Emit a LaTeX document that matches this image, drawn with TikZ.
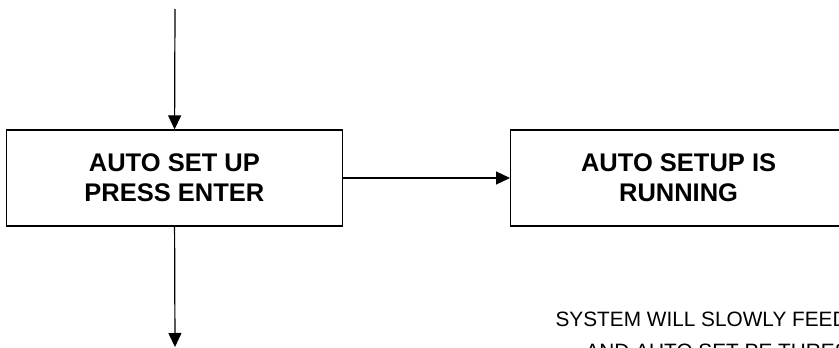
\documentclass[tikz,border=0pt]{standalone}
\usepackage{fontspec}
\setmainfont{Liberation Sans}
\usetikzlibrary{arrows.meta,graphs,positioning}
\tikzset{
    ampersand replacement=\&,
    >={Triangle[length=14pt,width=13pt]},
    stepbox/.style={draw, line width=1.2pt, minimum width=336pt, minimum height=96pt,
        align=center, font=\bfseries\fontsize{25.5}{30}\selectfont},
    note/.style={anchor=base west, inner sep=0pt, font=\fontsize{20.8}{24}\selectfont},
}

\begin{document}
\begin{tikzpicture}[x=1pt,y=-1pt,line width=1.2pt]
            \useasboundingbox (0,0) rectangle (839,348);
            \clip (0,0) rectangle (839,348);

            \matrix[column sep=167pt, inner sep=0pt] at (426.5,178) {
                \node[stepbox] (S) {AUTO SET UP\\PRESS ENTER} ; \&
                \node[stepbox] (R) {AUTO SETUP IS\\RUNNING} ; \\
            } ;

            \coordinate (top) at (175,9) ;
            \coordinate (bot) at (175,347) ;

            \graph[use existing nodes] {
                top -> S -> {R, bot} ;
            } ;

            \node[note] (N1) at (555,326) {SYSTEM WILL SLOWLY FEED} ;
            \node[note] (N2) at (585,358) {AND AUTO SET PE THRES} ;
        \end{tikzpicture}
\end{document}
